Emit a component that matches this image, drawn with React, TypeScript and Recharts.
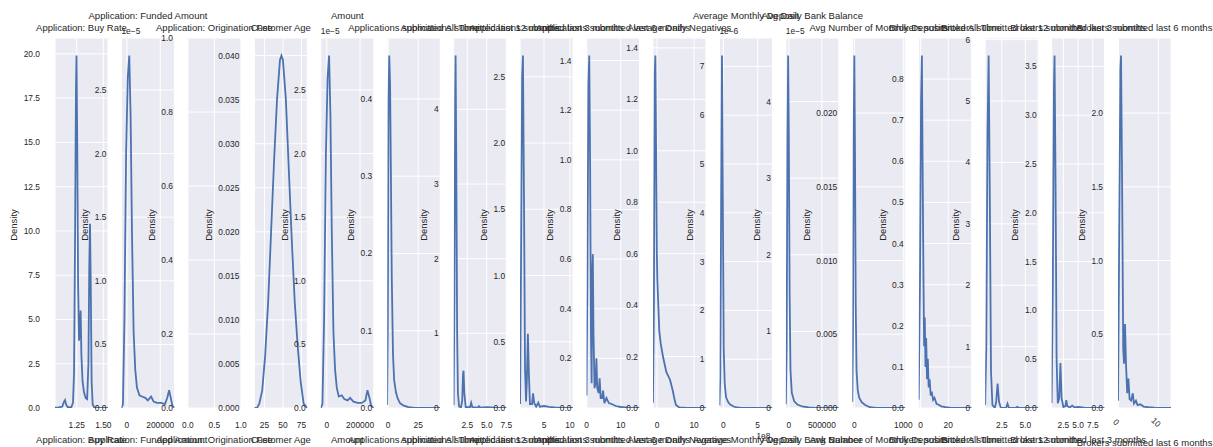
import React from 'react';
import { LineChart, Line, XAxis, YAxis, CartesianGrid } from 'recharts';

// KDE curves, one list of [value, density] pairs per column.
// Densities for the money columns are in units of the axis offset (1e-5 / 1e-6).
const buyRateKde = [
  [1.046, 0.02], [1.08, 0.03], [1.115, 0.08], [1.13, 0.35], [1.14, 0.45], [1.15, 0.2], [1.165, 0.05],
  [1.2, 0.05], [1.215, 0.3], [1.225, 2], [1.235, 10], [1.243, 18], [1.248, 19.9], [1.255, 15],
  [1.263, 7], [1.272, 3.8], [1.28, 4.5], [1.287, 5.5], [1.294, 3], [1.305, 1.5], [1.318, 0.9],
  [1.335, 0.55], [1.348, 0.5], [1.36, 2.5], [1.368, 8], [1.375, 10.4], [1.382, 7], [1.39, 1.5],
  [1.4, 0.2], [1.415, 0.03], [1.45, 0], [1.544, 0],
];
const fundedAmountKde = [
  [-33000, 0], [-24000, 0.03], [-15000, 0.7], [-5000, 2.0], [5000, 2.6], [14000, 2.77], [22000, 2.3],
  [30000, 1.4], [40000, 0.6], [50000, 0.3], [60000, 0.16], [75000, 0.1], [90000, 0.09], [110000, 0.08],
  [125000, 0.06], [145000, 0.09], [160000, 0.05], [180000, 0.04], [205000, 0.04], [228000, 0.03],
  [242000, 0.08], [253000, 0.14], [263000, 0.08], [272000, 0.02], [285000, 0],
];
const originationFeeKde: number[][] = [];
const customerAgeKde = [
  [11.3, 0], [15, 0], [18, 0.0005], [22, 0.002], [26, 0.006], [30, 0.012], [34, 0.02], [38, 0.028],
  [42, 0.035], [46, 0.0395], [48, 0.04], [50, 0.0395], [54, 0.035], [58, 0.027], [62, 0.019],
  [66, 0.012], [70, 0.007], [74, 0.003], [78, 0.0005], [83, 0],
];
const amountKde = [
  [-36000, 0], [-26000, 0.03], [-16000, 0.7], [-5000, 2.0], [5000, 2.6], [14000, 2.77], [22000, 2.3],
  [30000, 1.4], [40000, 0.6], [50000, 0.3], [60000, 0.16], [72000, 0.09], [90000, 0.1], [105000, 0.07],
  [125000, 0.06], [140000, 0.08], [160000, 0.05], [185000, 0.04], [210000, 0.04], [232000, 0.06],
  [244000, 0.14], [256000, 0.08], [266000, 0.02], [282000, 0],
];
const appsAllTimeKde = [
  [-0.8, 0.004], [-0.3, 0.1], [0.3, 0.4], [0.9, 0.456], [1.6, 0.42], [2.3, 0.3], [3, 0.17], [4, 0.07],
  [5, 0.036], [6.5, 0.02], [8, 0.012], [10, 0.006], [13, 0.003], [17, 0.001], [22, 0], [43.3, 0],
];
const appsLast12Kde = [
  [0.75, 0.04], [0.85, 1.5], [0.95, 4.2], [1.0, 4.72], [1.08, 3.5], [1.2, 1.0], [1.3, 0.2], [1.45, 0.02],
  [1.7, 0.01], [1.85, 0.1], [1.95, 0.45], [2.02, 0.5], [2.12, 0.2], [2.3, 0.01], [2.85, 0.01], [3.0, 0.07],
  [3.15, 0.01], [3.85, 0.005], [4.0, 0.025], [4.15, 0.005], [5.0, 0.012], [6.0, 0.004], [7.0, 0.002],
  [7.55, 0],
];
const appsLast3Kde = [
  [0.4, 0.03], [0.6, 1.2], [0.8, 2.5], [0.95, 2.66], [1.15, 1.6], [1.35, 0.3], [1.55, 0.05], [1.7, 0.2],
  [1.9, 0.56], [2.1, 0.25], [2.3, 0.03], [2.7, 0.03], [2.9, 0.11], [3.1, 0.04], [3.5, 0.01], [3.9, 0.04],
  [4.2, 0.01], [5, 0.015], [6, 0.008], [7, 0.004], [8.5, 0.001], [10.6, 0],
];
const appsLast6Kde = [
  [-0.05, 0.05], [0.2, 0.5], [0.5, 1.3], [0.75, 1.42], [1.0, 1.0], [1.25, 0.3], [1.45, 0.1], [1.65, 0.55],
  [1.8, 0.62], [2.0, 0.3], [2.3, 0.08], [2.6, 0.1], [2.85, 0.2], [3.1, 0.08], [3.5, 0.06], [3.8, 0.12],
  [4.1, 0.04], [4.5, 0.04], [4.8, 0.07], [5.2, 0.02], [5.8, 0.04], [6.5, 0.02], [7.5, 0.015], [8.5, 0.008],
  [10, 0.004], [12, 0.001], [15.5, 0],
];
const dailyNegativesKde = [
  [-1.1, 0.02], [-0.85, 0.4], [-0.6, 1.3], [-0.45, 1.37], [-0.25, 1.0], [-0.05, 0.6], [0.08, 0.5],
  [0.6, 0.3], [1.0, 0.25], [1.6, 0.2], [2.5, 0.14], [3.5, 0.11], [4.2, 0.07], [4.7, 0.035], [5.1, 0.012],
  [6.0, 0.002], [8, 0], [13.2, 0],
];
const monthlyDepositKde = [
  [-0.57, 0.05], [-0.45, 0.6], [-0.32, 4], [-0.19, 7.22], [-0.06, 4], [0.06, 1.2], [0.2, 0.5], [0.4, 0.22],
  [0.7, 0.12], [1.0, 0.07], [1.5, 0.03], [2.0, 0.01], [2.6, 0], [7.14, 0],
];
const bankBalanceKde = [
  [-45000, 0.05], [-33000, 0.8], [-20000, 3.5], [-10000, 4.6], [0, 3.6], [12000, 1.5], [25000, 0.5],
  [45000, 0.2], [80000, 0.09], [130000, 0.045], [200000, 0.02], [300000, 0.008], [400000, 0], [757000, 0],
];
const depositCountKde = [
  [-42, 0.0004], [-28, 0.005], [-14, 0.018], [0, 0.0239], [14, 0.017], [28, 0.007], [45, 0.0025],
  [70, 0.0012], [100, 0.0007], [150, 0.0004], [220, 0.0002], [320, 0.00005], [450, 0], [1040, 0],
];
const brokersAllTimeKde = [
  [-1.4, 0.02], [-0.5, 0.3], [0.3, 0.75], [0.9, 0.857], [1.5, 0.55], [2.0, 0.33], [2.5, 0.15], [3.0, 0.22],
  [3.5, 0.1], [4.0, 0.17], [4.6, 0.07], [5.2, 0.12], [5.8, 0.05], [6.5, 0.07], [7.3, 0.03], [8.0, 0.04],
  [9, 0.02], [10, 0.025], [11.5, 0.01], [13, 0.008], [15, 0.004], [18, 0.002], [22, 0.0005], [26, 0], [37, 0],
];
const brokersLast12Kde = [
  [0.73, 0.05], [0.85, 1.0], [0.98, 4.5], [1.1, 5.74], [1.22, 3.5], [1.35, 0.6], [1.5, 0.05], [1.75, 0],
  [1.9, 0.1], [2.05, 0.4], [2.2, 0.1], [2.4, 0], [2.95, 0], [3.1, 0.07], [3.25, 0], [4.0, 0.005],
  [4.15, 0.02], [4.3, 0.005], [5.0, 0.003], [6.35, 0],
];
const brokersLast3Kde = [
  [0.5, 0.05], [0.7, 1.2], [0.9, 3.3], [1.0, 3.61], [1.15, 2.5], [1.35, 0.5], [1.55, 0.05], [1.8, 0.1],
  [2.0, 0.46], [2.2, 0.1], [2.5, 0.01], [2.85, 0.02], [3.0, 0.08], [3.15, 0.02], [3.6, 0.005], [4.0, 0.025],
  [4.4, 0.005], [5.0, 0.01], [6, 0.003], [7.5, 0.001], [9.5, 0],
];
const brokersLast6Kde = [
  [-0.1, 0.05], [0.2, 1.2], [0.5, 2.3], [0.65, 2.39], [0.9, 1.6], [1.2, 0.4], [1.4, 0.3], [1.65, 0.57],
  [1.9, 0.3], [2.2, 0.1], [2.5, 0.2], [2.8, 0.06], [3.2, 0.05], [3.6, 0.1], [3.9, 0.03], [4.4, 0.05],
  [4.8, 0.02], [5.5, 0.025], [6.3, 0.01], [7.5, 0.005], [9, 0.002], [11, 0], [13.2, 0],
];

const columnTitles = [
  'Application: Buy Rate',
  'Application: Funded Amount',
  'Application: Origination Fee',
  'Customer Age',
  'Amount',
  'Applications submitted All Time',
  'Applications submitted last 12 months',
  'Applications submitted last 3 months',
  'Applications submitted last 6 months',
  'Average Daily Negatives',
  'Average Monthly Deposit',
  'Avg Daily Bank Balance',
  'Avg Number of Monthly Deposits',
  'Brokers submitted All Time',
  'Brokers submitted last 12 months',
  'Brokers submitted last 3 months',
  'Brokers submitted last 6 months',
];

const curves = [
  buyRateKde, fundedAmountKde, originationFeeKde, customerAgeKde, amountKde, appsAllTimeKde,
  appsLast12Kde, appsLast3Kde, appsLast6Kde, dailyNegativesKde, monthlyDepositKde,
  bankBalanceKde, depositCountKde, brokersAllTimeKde, brokersLast12Kde, brokersLast3Kde, brokersLast6Kde,
];

const xDomains = [
  [1.046, 1.544], [-33000, 285000], [0, 1], [11.3, 83], [-36000, 282000], [-0.8, 43.3], [0.75, 7.55],
  [0.4, 10.6], [-0.05, 15.5], [-1.1, 13.2], [-0.57, 7.14], [-45000, 757000], [-42, 1040], [-1.4, 37],
  [0.73, 6.35], [0.5, 9.5], [-0.1, 13.2],
];

const xTicks = [
  [1.25, 1.5], [0, 200000], [0, 0.5, 1], [25, 50, 75], [0, 200000], [0, 25], [2.5, 5, 7.5], [5, 10],
  [0, 10], [0, 10], [0, 5], [0, 500000], [0, 1000], [0, 20], [2.5, 5], [2.5, 5, 7.5], [0, 10],
];
const xDecimals = [2, 0, 1, 0, 0, 0, 1, 0, 0, 0, 0, 0, 0, 0, 1, 1, 0];

const yTicks = [
  [0, 2.5, 5, 7.5, 10, 12.5, 15, 17.5, 20],
  [0, 0.5, 1, 1.5, 2, 2.5],
  [0, 0.2, 0.4, 0.6, 0.8, 1],
  [0, 0.005, 0.01, 0.015, 0.02, 0.025, 0.03, 0.035, 0.04],
  [0, 0.5, 1, 1.5, 2, 2.5],
  [0, 0.1, 0.2, 0.3, 0.4],
  [0, 1, 2, 3, 4],
  [0, 0.5, 1, 1.5, 2, 2.5],
  [0, 0.2, 0.4, 0.6, 0.8, 1, 1.2, 1.4],
  [0, 0.2, 0.4, 0.6, 0.8, 1, 1.2, 1.4],
  [0, 1, 2, 3, 4, 5, 6, 7],
  [0, 1, 2, 3, 4],
  [0, 0.005, 0.01, 0.015, 0.02],
  [0, 0.1, 0.2, 0.3, 0.4, 0.5, 0.6, 0.7, 0.8],
  [0, 1, 2, 3, 4, 5, 6],
  [0, 0.5, 1, 1.5, 2, 2.5, 3, 3.5],
  [0, 0.5, 1, 1.5, 2],
];
const yDecimals = [1, 1, 1, 3, 1, 1, 0, 1, 1, 1, 0, 0, 3, 1, 0, 1, 1];

// axis offset labels (matplotlib scientific notation)
const yOffsets: Record<number, string> = { 1: '1e\u22125', 4: '1e\u22125', 10: '1e\u22126', 11: '1e\u22125' };
const xOffsets: Record<number, string> = { 10: '1e8' };

const W = 1213;
const H = 447;
const PLOT_TOP = 38;
const PLOT_BOTTOM = 408;
const FIRST_LEFT = 55;
const PITCH = 66.44;
const PLOT_W = 53;
const TICK_FONT = 8.4;
const LABEL_FONT = 9.5;
const TEXT = '#262626';
const LINE = '#4C72B0';
const FONT = '"Liberation Sans", Arial, Helvetica, sans-serif';

const fmt = (v: number, d: number) => v.toFixed(d);

// rough Arial width for numeric labels
const numWidth = (s: string) =>
  s.split('').reduce((w, ch) => w + (ch === '.' ? 0.278 : 0.556), 0) * TICK_FONT;

function Panel({ i }: { i: number }) {
  const left = FIRST_LEFT + i * PITCH;
  const curve = curves[i];
  const data = curve.map(([x, y]) => ({ x, y }));
  const peak = curve.reduce((m, p) => Math.max(m, p[1]), 0);
  const yTop = peak > 0 ? peak * 1.05 : 1;
  const tickStyle = { fontSize: TICK_FONT, fill: TEXT };
  const rotated = i === 16;
  // axes get a 1px band (a zero-size axis is not drawn), taken from the margins
  return (
    <div style={{ position: 'absolute', left: 0, top: 0 }}>
      <LineChart
        width={W}
        height={H}
        data={data}
        margin={{ top: PLOT_TOP, bottom: H - PLOT_BOTTOM - 1, left: left - 1, right: W - left - PLOT_W }}
      >
        <CartesianGrid fill="#EAEAF2" fillOpacity={1} stroke="#FFFFFF" strokeWidth={1} />
        <XAxis
          dataKey="x"
          type="number"
          domain={xDomains[i]}
          ticks={xTicks[i]}
          allowDataOverflow
          interval={0}
          height={1}
          axisLine={false}
          tickLine={false}
          tickSize={0}
          tickMargin={rotated ? 12 : 14}
          angle={rotated ? 45 : 0}
          tick={tickStyle}
          tickFormatter={(v: number) => fmt(v, xDecimals[i])}
        />
        <YAxis
          type="number"
          domain={[0, yTop]}
          ticks={yTicks[i]}
          allowDataOverflow
          interval={0}
          width={1}
          axisLine={false}
          tickLine={false}
          tickSize={0}
          tickMargin={15}
          tick={tickStyle}
          tickFormatter={(v: number) => fmt(v, yDecimals[i])}
        />
        {curve.length > 0 && (
          <Line
            dataKey="y"
            type="linear"
            stroke={LINE}
            strokeWidth={1.8}
            dot={false}
            activeDot={false}
            isAnimationActive={false}
          />
        )}
      </LineChart>
    </div>
  );
}

function Labels() {
  return (
    <svg width={W} height={H} style={{ position: 'absolute', left: 0, top: 0 }}>
      {columnTitles.map((title, i) => {
        const left = FIRST_LEFT + i * PITCH;
        const cx = left + PLOT_W / 2;
        const raised = yOffsets[i] !== undefined;
        const widest = Math.max(...yTicks[i].map((v) => numWidth(fmt(v, yDecimals[i]))));
        const ylx = left - 15 - widest - 10;
        const cy = (PLOT_TOP + PLOT_BOTTOM) / 2 + 2;
        return (
          <g key={title} fill={TEXT}>
            <text x={cx} y={raised ? 15.5 : 27} fontSize={LABEL_FONT} textAnchor="middle" dominantBaseline="central">
              {title}
            </text>
            <text x={cx} y={i === 16 ? 442 : 439} fontSize={LABEL_FONT} textAnchor="middle" dominantBaseline="central">
              {title}
            </text>
            <text
              x={ylx}
              y={cy}
              fontSize={LABEL_FONT}
              textAnchor="middle"
              dominantBaseline="central"
              transform={`rotate(-90, ${ylx}, ${cy})`}
            >
              Density
            </text>
            {yOffsets[i] && (
              <text x={left} y={31} fontSize={TICK_FONT} dominantBaseline="central">
                {yOffsets[i]}
              </text>
            )}
            {xOffsets[i] && (
              <text x={left + PLOT_W - 2} y={436} fontSize={TICK_FONT} textAnchor="end" dominantBaseline="central">
                {xOffsets[i]}
              </text>
            )}
          </g>
        );
      })}
    </svg>
  );
}

export default function App() {
  return (
    <div style={{ position: 'relative', width: W, height: H, background: '#FFFFFF', fontFamily: FONT, overflow: 'hidden' }}>
      <style>{'body { margin: 0; }'}</style>
      {columnTitles.map((t, i) => (
        <Panel key={t} i={i} />
      ))}
      <Labels />
    </div>
  );
}
